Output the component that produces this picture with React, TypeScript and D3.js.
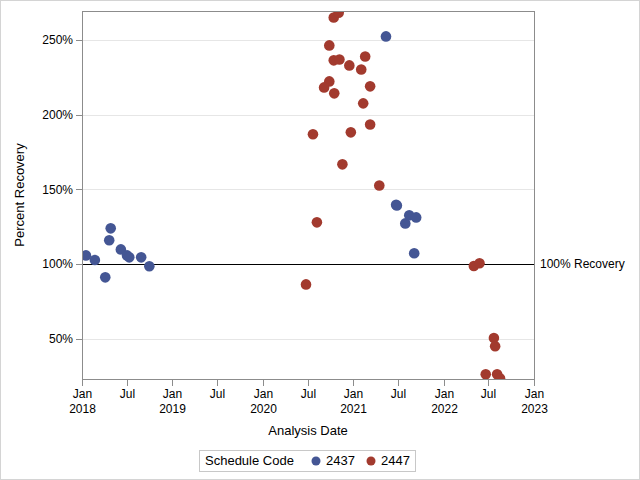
import React from "react";
import * as d3 from "d3";

const xTickDates = ["2018-01-01","2018-07-01","2019-01-01","2019-07-01","2020-01-01","2020-07-01","2021-01-01","2021-07-01","2022-01-01","2022-07-01","2023-01-01"];
const xTickLine1 = ["Jan","Jul","Jan","Jul","Jan","Jul","Jan","Jul","Jan","Jul","Jan"];
const xTickLine2 = ["2018","","2019","","2020","","2021","","2022","","2023"];
const yTicks = [50, 100, 150, 200, 250];

const series2437Dates = ["2018-01-17","2018-02-22","2018-04-05","2018-04-21","2018-04-27","2018-06-07","2018-07-02","2018-07-11","2018-08-28","2018-09-30","2021-05-13","2021-06-23","2021-06-26","2021-07-30","2021-08-15","2021-09-12","2021-09-04"];
const series2437Values = [105.8,102.7,91.1,115.9,123.9,109.8,105.8,104.5,104.5,98.5,252.3,139.7,139.2,127.2,132.6,131.2,107.2];

const series2447Dates = ["2020-10-14","2020-11-03","2020-09-26","2020-10-14","2020-11-06","2021-02-18","2020-12-16","2021-02-02","2020-09-26","2020-09-05","2020-10-16","2021-03-10","2021-02-10","2021-03-10","2020-07-22","2020-12-22","2020-11-18","2021-04-16","2020-08-07","2020-06-24","2022-05-03","2022-05-26","2022-07-23","2022-07-28","2022-06-20","2022-08-05","2022-08-17"];
const series2447Values = [265.0,268.1,246.3,236.3,236.9,238.9,232.9,230.2,222.2,218.2,214.2,218.9,207.5,193.4,186.8,188.1,166.7,152.6,127.9,86.4,98.7,100.5,50.5,45.0,26.2,26.2,23.5];

const seriesNames = ["2437", "2447"];
const seriesColors = ["#445694", "#A23A2E"];
const referenceValue = 100;
const referenceLabel = "100% Recovery";

const W = 640, H = 480;
const L = 82, R = 534, T = 11, B = 379;
const FONT = "'Liberation Sans', Arial, sans-serif";

export default function App() {
  const parse = d3.utcParse("%Y-%m-%d");
  const x = d3.scaleUtc().domain([parse("2018-01-01")!, parse("2023-01-01")!]).range([L, R]);
  const y = d3.scaleLinear().domain([23.1, 269.3]).range([B, T]);
  const fmt = (v: number) => `${v}%`;

  const groups = [
    { name: seriesNames[0], color: seriesColors[0], dates: series2437Dates, values: series2437Values },
    { name: seriesNames[1], color: seriesColors[1], dates: series2447Dates, values: series2447Values },
  ];

  return (
    <svg width={W} height={H} style={{ display: "block", position: "absolute", left: 0, top: 0 }} fontFamily={FONT}>
      <rect x={0.5} y={0.5} width={W - 1} height={H - 1} fill="#fff" stroke="#d4d4d4" />
      <defs>
        <clipPath id="plotclip">
          <rect x={L} y={T} width={R - L} height={B - T} />
        </clipPath>
      </defs>
      {yTicks.map((t) => (
        <g key={t}>
          <line x1={L} x2={R} y1={Math.round(y(t)) + 0.5} y2={Math.round(y(t)) + 0.5} stroke="#e6e6e6" />
          <line x1={L - 6} x2={L} y1={Math.round(y(t)) + 0.5} y2={Math.round(y(t)) + 0.5} stroke="#8c8c8c" />
          <text x={L - 9} y={y(t)} dy="0.35em" textAnchor="end" fontSize={12} fill="#000">{fmt(t)}</text>
        </g>
      ))}
      <line x1={L} x2={R} y1={Math.round(y(referenceValue)) + 0.5} y2={Math.round(y(referenceValue)) + 0.5} stroke="#000" />
      <text x={R + 6} y={y(referenceValue)} dy="0.35em" fontSize={12} fill="#000">{referenceLabel}</text>
      <g clipPath="url(#plotclip)">
        {groups.map((g) =>
          g.dates.map((d, i) => (
            <circle key={g.name + i} cx={x(parse(d)!)} cy={y(g.values[i])} r={5.3} fill={g.color} />
          ))
        )}
      </g>
      <rect x={L + 0.5} y={T + 0.5} width={R - L} height={B - T} fill="none" stroke="#8c8c8c" />
      {xTickDates.map((d, i) => {
        const px = Math.round(x(parse(d)!)) + 0.5;
        return (
          <g key={d}>
            <line x1={px} x2={px} y1={B} y2={B + 7} stroke="#8c8c8c" />
            <text x={px} y={B + 19} textAnchor="middle" fontSize={12} fill="#000">{xTickLine1[i]}</text>
            {xTickLine2[i] && <text x={px} y={B + 34} textAnchor="middle" fontSize={12} fill="#000">{xTickLine2[i]}</text>}
          </g>
        );
      })}
      <text x={(L + R) / 2} y={435} textAnchor="middle" fontSize={13} fill="#000">Analysis Date</text>
      <text transform={`translate(24,${(T + B) / 2}) rotate(-90)`} textAnchor="middle" fontSize={13} fill="#000">Percent Recovery</text>
      <g>
        <rect x={199.5} y={450.5} width={216} height={21} fill="#fff" stroke="#c8c8c8" />
        <text x={205} y={465} fontSize={13} fill="#000">Schedule Code</text>
        {groups.map((g, i) => (
          <g key={g.name}>
            <circle cx={316 + i * 55} cy={461} r={4.5} fill={g.color} />
            <text x={326 + i * 55} y={465} fontSize={13} fill="#000">{g.name}</text>
          </g>
        ))}
      </g>
    </svg>
  );
}
